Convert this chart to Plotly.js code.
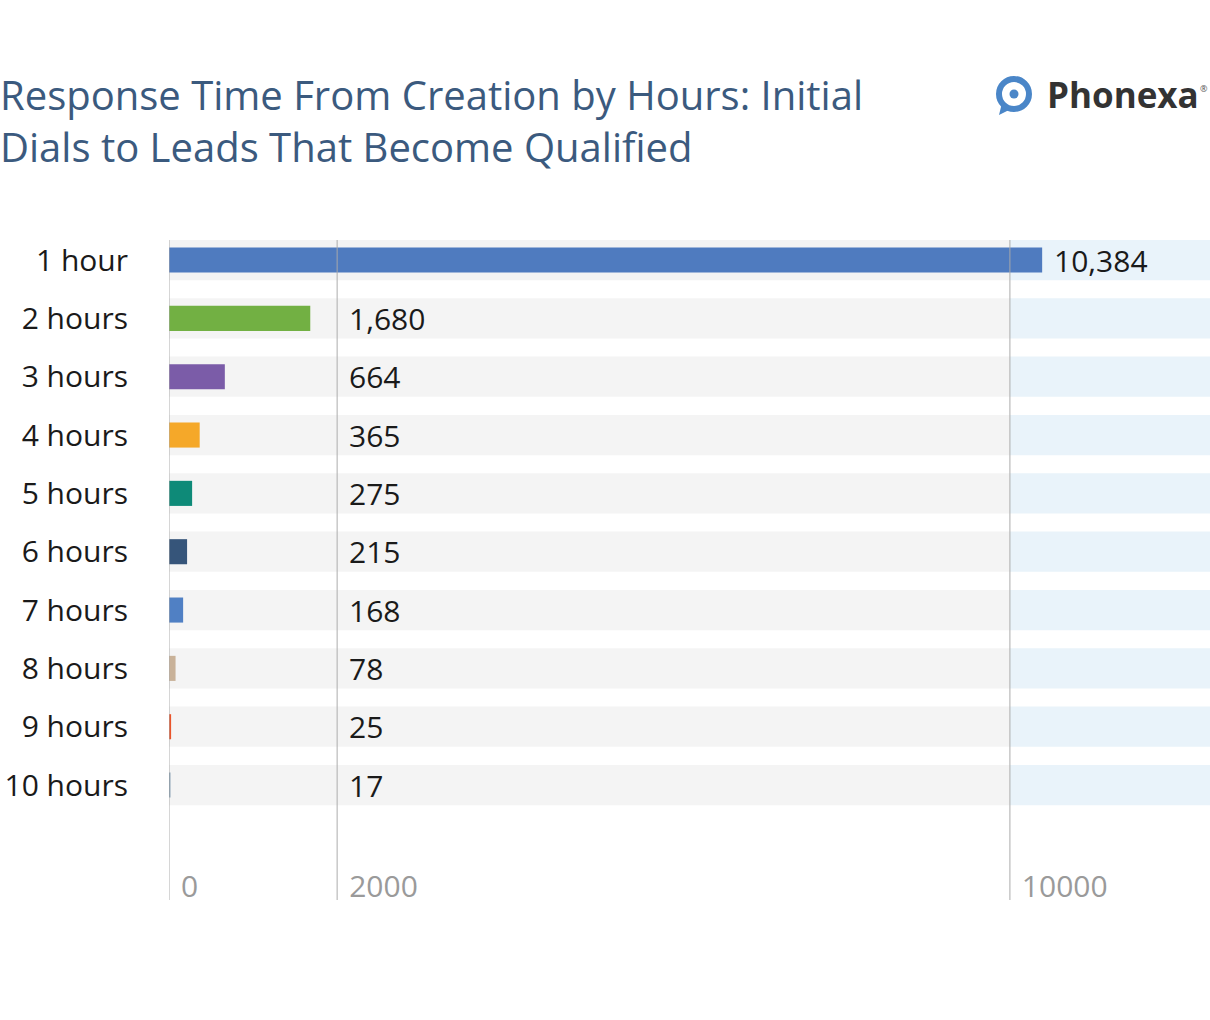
<!DOCTYPE html>
<html>
<head>
<meta charset="utf-8">
<script src="https://cdn.plot.ly/plotly-3.0.1.min.js"></script>
<style>html,body{margin:0;padding:0;background:#fff;}#chart{width:1210px;height:1020px;}</style>
</head>
<body>
<div id="chart"></div>
<script>
const categories = ["1 hour","2 hours","3 hours","4 hours","5 hours","6 hours","7 hours","8 hours","9 hours","10 hours"];
const values = [10384,1680,664,365,275,215,168,78,25,17];
const valueLabels = ["10,384","1,680","664","365","275","215","168","78","25","17"];
const barColors = ["#4f7bbf","#72b043","#7b5ca8","#f5a829","#0e8a78","#36557a","#5080c4","#c9b299","#e9542a","#7f99af"];
const tickVals = [0,2000,10000];
const tickText = ["0","2000","10000"];
const titleText = "Response Time From Creation by Hours: Initial<br>Dials to Leads That Become Qualified";
const brandName = "Phonexa";

const W = 1210, H = 1020;
const M = {l:169, r:0, t:240, b:120};
const pw = W - M.l - M.r, ph = H - M.t - M.b;
const px = x => (x - M.l) / pw;
const py = y => (H - M.b - y) / ph;
const XMAX = 12380;

const FONT = "Open Sans, sans-serif";
const splitVal = tickVals[2];
const labelFloor = tickVals[1];

const shapes = [];
categories.forEach((c, i) => {
  shapes.push({type:'rect', layer:'below', xref:'x', yref:'y', x0:0, x1:splitVal, y0:i-0.345, y1:i+0.345, fillcolor:'#f4f4f4', line:{width:0}});
  shapes.push({type:'rect', layer:'below', xref:'paper', yref:'y', x0:(splitVal/XMAX), x1:1, y0:i-0.345, y1:i+0.345, fillcolor:'#e9f3fa', line:{width:0}});
});
tickVals.forEach(v => {
  shapes.push({type:'line', layer:'above', xref:'x', yref:'paper', x0:v, x1:v, y0:0, y1:1, line:{color:'rgba(170,170,170,0.75)', width:1.3}});
});
// logo icon
shapes.push({type:'path', xref:'paper', yref:'paper', layer:'above',
  path:`M ${px(1002)} ${py(103)} L ${px(999)} ${py(115)} L ${px(1011)} ${py(109)} Z`, fillcolor:'#4a86c8', line:{width:0}});
shapes.push({type:'circle', xref:'paper', yref:'paper', layer:'above',
  x0:px(999), x1:px(1029), y0:py(109), y1:py(79), fillcolor:'rgba(0,0,0,0)', line:{color:'#4a86c8', width:6}});
shapes.push({type:'circle', xref:'paper', yref:'paper', layer:'above',
  x0:px(1009.5), x1:px(1018.5), y0:py(98.5), y1:py(89.5), fillcolor:'#4a86c8', line:{width:0}});

const annotations = values.map((v, i) => ({
  x: Math.max(v, labelFloor), y: i, xref:'x', yref:'y',
  text: valueLabels[i], showarrow:false, xanchor:'left', yanchor:'middle',
  xshift: 10, font:{family:FONT, size:30, color:'#1a1a1a'}
}));
annotations.push({x:px(1045), y:py(95), xref:'paper', yref:'paper', text:brandName, showarrow:false,
  xanchor:'left', yanchor:'middle', font:{family:FONT, size:35, color:'#333333', weight:700}});
annotations.push({x:1, y:py(88), xref:'paper', yref:'paper', text:'®', showarrow:false,
  xanchor:'right', yanchor:'middle', font:{family:FONT, size:9, color:'#555'}});

const trace = {
  type:'bar', orientation:'h', x:values, y:categories,
  marker:{color:barColors, line:{width:0}}, width:0.43,
  hoverinfo:'skip'
};

const layout = {
  width:W, height:H, margin:M,
  paper_bgcolor:'#ffffff', plot_bgcolor:'rgba(0,0,0,0)',
  showlegend:false,
  title:{text:titleText, x:0, xref:'paper', xanchor:'left', yref:'container', y:1 - 110/H, yanchor:'top',
    font:{family:FONT, size:40, color:'#3b5a7e'}, pad:{l:-169}},
  xaxis:{range:[0,XMAX], tickvals:tickVals, ticktext:tickText, showgrid:false, zeroline:false,
    showline:false, ticks:'', ticklabelposition:'inside right', side:'bottom', ticklabelshift:12, ticklabelstandoff:-9,
    tickfont:{family:FONT, size:30, color:'#9a9a9a'}, fixedrange:true},
  yaxis:{type:'category', categoryarray:categories, range:[10.97,-0.343], showgrid:false, zeroline:false,
    showline:false, ticks:'', ticklabelstandoff:40,
    tickfont:{family:FONT, size:30, color:'#1a1a1a'}, fixedrange:true},
  shapes:shapes, annotations:annotations
};

Plotly.newPlot('chart', [trace], layout, {displayModeBar:false, staticPlot:true});
</script>
</body>
</html>
